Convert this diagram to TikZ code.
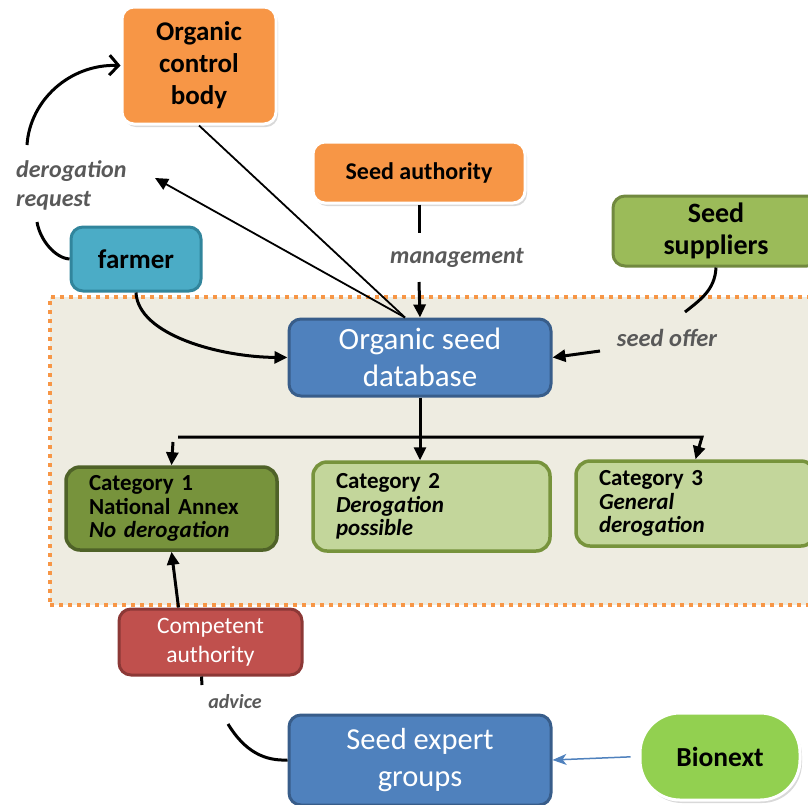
\documentclass[tikz,border=0pt]{standalone}
\usepackage{fontspec}
\setmainfont{Carlito}
\usetikzlibrary{arrows.meta,shadows,calc}
\definecolor{orangeF}{HTML}{F79646}
\definecolor{regionbg}{HTML}{EEECE1}
\definecolor{blueF}{HTML}{4F81BD}
\definecolor{blueD}{HTML}{385D8A}
\definecolor{tealF}{HTML}{4BACC6}
\definecolor{tealD}{HTML}{31859C}
\definecolor{greenF}{HTML}{9BBB59}
\definecolor{greenD}{HTML}{71893F}
\definecolor{darkgreenF}{HTML}{77933C}
\definecolor{darkgreenD}{HTML}{4F6228}
\definecolor{lightgreenF}{HTML}{C3D69B}
\definecolor{redF}{HTML}{C0504D}
\definecolor{redD}{HTML}{8C3836}
\definecolor{limeF}{HTML}{92D050}
\definecolor{labelgray}{HTML}{595959}
\tikzset{
  box/.style={draw, line width=3pt, rounded corners=12pt, align=center, inner sep=0pt},
  whitebox/.style={box, draw=white, fill=orangeF, drop shadow={shadow xshift=2pt, shadow yshift=-3pt, opacity=0.3}},
  catbox/.style={draw, line width=3.5pt, rounded corners=14pt, align=left, inner xsep=23pt, inner ysep=0pt,
    font=\bfseries\fontsize{23}{23.5}\selectfont},
  lbl/.style={font=\bfseries\itshape, text=labelgray, inner sep=0pt},
  conn/.style={line width=3pt},
  thinconn/.style={line width=1.8pt},
  tri/.style={-{Triangle[length=13pt,width=12pt]}},
}
\begin{document}
\begin{tikzpicture}[x=1pt,y=-1pt]
\useasboundingbox (0,0) rectangle (808,804);

% shaded region
\node[draw=orangeF, line width=4pt, dash pattern=on 4pt off 5pt, fill=regionbg,
      minimum width=780pt, minimum height=308pt, inner sep=0pt] (region) at (440,451) {};

% nodes
\node[whitebox, minimum width=154pt, minimum height=117pt, font=\bfseries\fontsize{27}{32}\selectfont]
  (ocb) at (199,65.5) {Organic\\control\\body};
\node[whitebox, minimum width=212pt, minimum height=61pt, font=\bfseries\fontsize{24}{26}\selectfont]
  (sa) at (419,172.5) {Seed authority};
\node[box, draw=greenD, fill=greenF, minimum width=206pt, minimum height=70pt, font=\bfseries\fontsize{28}{32}\selectfont]
  (ss) at (716,231) {Seed\\suppliers};
\node[box, draw=tealD, fill=tealF, minimum width=130pt, minimum height=64pt, font=\bfseries\fontsize{27}{28}\selectfont]
  (farmer) at (136,259) {farmer};
\node[box, draw=blueD, fill=blueF, text=white, minimum width=262pt, minimum height=77pt, font=\fontsize{31}{37}\selectfont]
  (db) at (420,357.5) {Organic seed\\database};
\node[catbox, draw=darkgreenD, fill=darkgreenF, text width=165pt, minimum height=83pt]
  (cat1) at (171.5,508.5) {Category 1\\National Annex\\\textit{No derogation}};
\node[catbox, draw=darkgreenF, fill=lightgreenF, text width=191pt, minimum height=89pt]
  (cat2) at (431.5,506.5) {Category 2\\\textit{Derogation}\\\textit{possible}};
\node[catbox, draw=darkgreenF, fill=lightgreenF, text width=193pt, minimum height=85pt]
  (cat3) at (695.5,503.5) {Category 3\\\textit{General}\\\textit{derogation}};
\node[box, draw=redD, fill=redF, text=white, minimum width=183pt, minimum height=66pt, font=\fontsize{23.5}{29}\selectfont]
  (ca) at (210.5,642) {Competent\\authority};
\node[box, draw=blueD, fill=blueF, text=white, minimum width=262pt, minimum height=90pt, font=\fontsize{30.5}{37}\selectfont]
  (seg) at (420,760) {Seed expert\\groups};
\node[box, draw=white, fill=limeF, rounded corners=40pt, minimum width=160pt, minimum height=87pt,
      font=\bfseries\fontsize{27.5}{30}\selectfont, drop shadow={shadow xshift=2pt, shadow yshift=-3pt, opacity=0.3}]
  (bionext) at (720,756.5) {Bionext};

% labels
\node[lbl, anchor=west, align=left, font=\bfseries\itshape\fontsize{24}{29}\selectfont] (lderog) at (16,185) {derogation\\request};
\node[lbl, font=\bfseries\itshape\fontsize{24}{25}\selectfont] (lmgmt) at (457,258) {management};
\node[lbl, font=\bfseries\itshape\fontsize{24.5}{25}\selectfont] (loffer) at (667,338) {seed offer};
\node[lbl, font=\bfseries\itshape\fontsize{20}{22}\selectfont] (ladvice) at (235,702) {advice};

% free ends
\coordinate (d1) at (37,222);
\coordinate (d2) at (27,145);
\coordinate (darr) at (155,178);
\coordinate (m1) at (419,233);
\coordinate (m2) at (419,282);
\coordinate (s1) at (685,312);
\coordinate (s2) at (600,351);
\coordinate (h1) at (178,437);
\coordinate (h2) at (702,437);
\coordinate (c1) at (173,442);
\coordinate (a1) at (202,685);
\coordinate (a2) at (228,724);

% connectors
\draw[conn] (farmer.west) .. controls (55,258) and (40,240) .. (d1);
\draw[conn, -{Straight Barb[length=9pt,width=20pt,line width=3pt]}] (d2) .. controls (30,100) and (70,64) .. (ocb.west);
\draw[thinconn] (ocb.south) -- ([xshift=-15pt]db.north);
\draw[thinconn, -{Triangle[length=13pt,width=12pt]}] ([xshift=-15pt]db.north) -- (darr);
\draw[conn] (sa.south) -- (m1);
\draw[conn, tri] (m2) -- (db.north);
\draw[conn] (ss.south) .. controls (715,290) and (700,300) .. (s1);
\draw[conn, tri] (s2) -- (db.east);
\draw[conn, tri] (farmer.south) .. controls (138,335) and (220,357) .. (db.west);
\draw[conn, tri] (db.south) -- (db.south |- cat2.north);
\draw[conn, tri] (h1) -- (h2) -- (cat3.north);
\draw[conn, tri] (c1) -- (cat1.north);
\draw[conn, tri] ([xshift=-32pt]ca.north) -- (cat1.south);
\draw[conn] ([xshift=-9pt]ca.south) -- (a1);
\draw[conn] (a2) .. controls (245,752) and (265,761) .. (seg.west);
\draw[line width=1.5pt, draw=blueF, -{Stealth[length=14pt,width=11pt,inset=4pt]}, shorten <=8pt] (bionext.west) -- (seg.east);
\end{tikzpicture}
\end{document}
